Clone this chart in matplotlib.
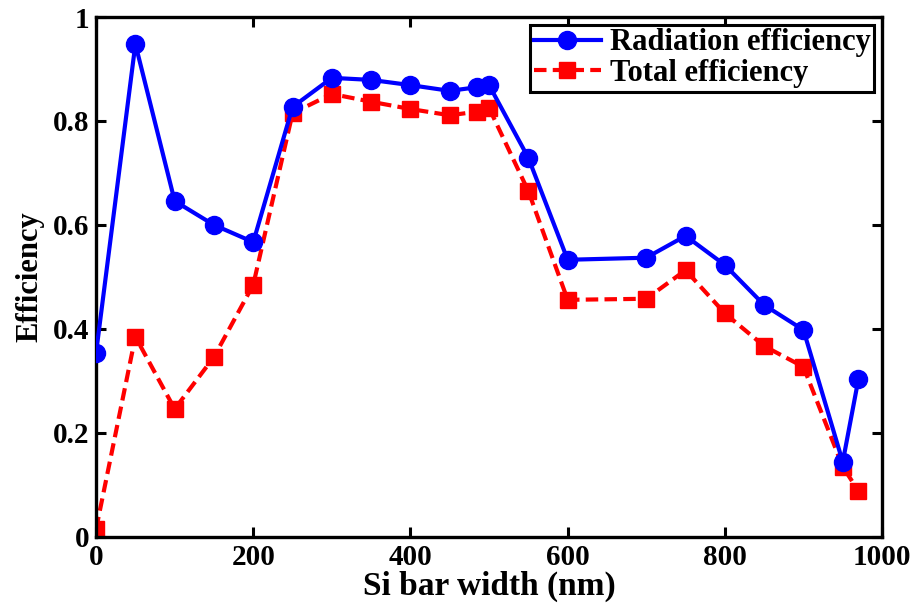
import matplotlib.pyplot as plt

# Si bar width (nm)
width_nm = [0, 50, 100, 150, 200, 250, 300, 350, 400, 450, 485, 500,
            550, 600, 700, 750, 800, 850, 900, 950, 970]

radiation_eff = [0.354, 0.948, 0.646, 0.600, 0.567, 0.827, 0.883, 0.879, 0.869, 0.858,
                 0.865, 0.869, 0.729, 0.533, 0.537, 0.579, 0.523, 0.446, 0.398, 0.144, 0.304]
total_eff = [0.015, 0.385, 0.246, 0.346, 0.485, 0.815, 0.852, 0.837, 0.823, 0.811,
             0.818, 0.825, 0.665, 0.456, 0.458, 0.513, 0.430, 0.367, 0.327, 0.135, 0.088]

xticks = [0, 200, 400, 600, 800, 1000]
yticks = [0, 0.2, 0.4, 0.6, 0.8, 1]

plt.rcParams['font.family'] = 'Liberation Serif'
plt.rcParams['font.weight'] = 'bold'

fig = plt.figure(figsize=(9.15, 6.08), dpi=100)
ax = fig.add_axes([0.105, 0.117, 0.859, 0.855])

ax.plot(width_nm, radiation_eff, color='blue', linewidth=3, marker='o',
        markersize=13, label='Radiation efficiency', zorder=3)
ax.plot(width_nm, total_eff, color='red', linewidth=3, linestyle='--', marker='s',
        markersize=11, label='Total efficiency', zorder=2, dashes=(3, 1.5))

ax.set_xlim(0, 1000)
ax.set_ylim(0, 1)
ax.set_xticks(xticks)
ax.set_yticks(yticks)
ax.set_xticklabels([str(t) for t in xticks])
ax.set_yticklabels(['0', '0.2', '0.4', '0.6', '0.8', '1'])
ax.tick_params(direction='in', length=7, width=2.2, labelsize=21,
               top=True, right=True, pad=5)
for s in ax.spines.values():
    s.set_linewidth(2.4)

ax.set_xlabel('Si bar width (nm)', fontsize=24, fontweight='bold', labelpad=0)
ax.set_ylabel('Efficiency', fontsize=22, fontweight='bold', labelpad=6)

leg = ax.legend(loc='upper right', fontsize=22, frameon=True, fancybox=False,
                borderaxespad=0.25, handlelength=2.2, borderpad=0.12,
                labelspacing=0.05, handletextpad=0.3)
leg.get_frame().set_edgecolor('black')
leg.get_frame().set_linewidth(2.2)
leg.get_frame().set_alpha(1)

fig.savefig('out.png', dpi=100)
